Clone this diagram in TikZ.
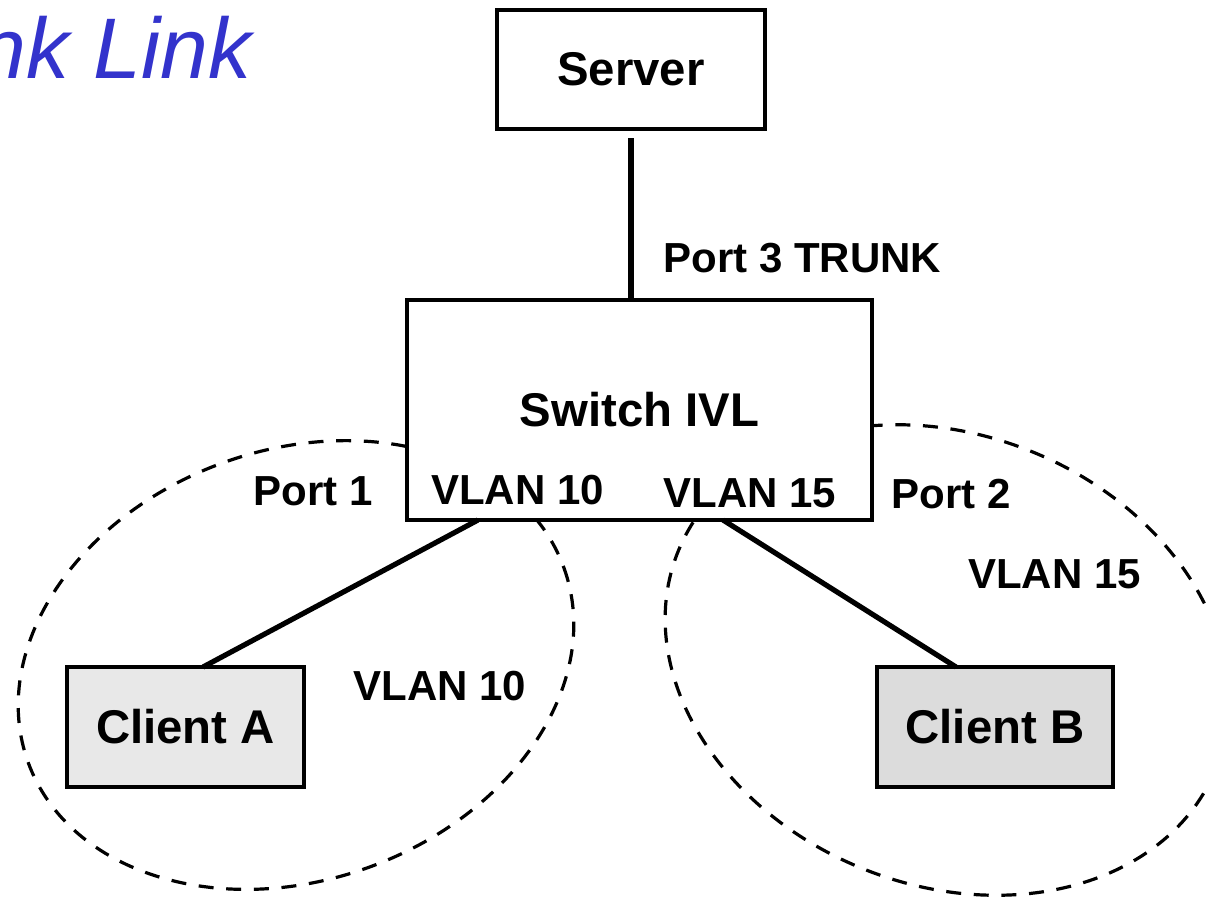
\documentclass[tikz,border=0pt]{standalone}
\usepackage{fontspec}
\setmainfont{Liberation Sans}
\usetikzlibrary{calc}
\definecolor{titleblue}{RGB}{51,51,204}
\definecolor{clientAfill}{RGB}{232,232,232}
\definecolor{clientBfill}{RGB}{220,220,220}
\begin{document}
\begin{tikzpicture}[x=0.75pt,y=-0.75pt,
  box/.style={draw=black, line width=3.4pt, fill=white, inner sep=0pt, outer sep=0pt,
    font=\fontsize{35.5}{40}\selectfont\bfseries},
  lbl/.style={inner sep=0pt, font=\fontsize{31.5}{36}\selectfont\bfseries},
  link/.style={line width=3.9pt},
  vlanzone/.style={dash pattern=on 11.25pt off 9.5pt, line width=2.4pt}]
\useasboundingbox (0,0) rectangle (1207,904);
\clip (0,0) rectangle (1207,904);

% heading (second line of the slide title)
\node[anchor=base west, inner sep=0pt, text=titleblue,
  font=\fontsize{64.5}{70}\selectfont\itshape] (title) at (-144,78) {Trunk Link};

% VLAN membership zones
\draw[vlanzone, rotate around={20:(296,665)}] (296,665) ellipse [x radius=285, y radius=215];
\draw[vlanzone, rotate around={-22:(947,660)}] (947,660) ellipse [x radius=290, y radius=225];

% devices
\node[box, minimum width=201pt, minimum height=89.25pt] (srv) at (631,69.5) {Server};
\node[box, minimum width=348.75pt, minimum height=165pt] (sw) at (639.5,410) {Switch IVL};
\node[box, fill=clientAfill, minimum width=177.75pt, minimum height=90pt] (cA) at (185.5,727) {Client A};
\node[box, fill=clientBfill, minimum width=177pt, minimum height=90pt] (cB) at (995,727) {Client B};

% port and VLAN labels
\node[lbl] (p3) at (802.5,258.5) {Port 3 TRUNK};
\node[lbl] (p1) at (313,491) {Port 1};
\node[lbl] (v10in) at (517.5,490) {VLAN 10};
\node[lbl] (v15in) at (750,493.5) {VLAN 15};
\node[lbl] (p2) at (951,494.5) {Port 2};
\node[lbl] (v15) at (1054.5,574) {VLAN 15};
\node[lbl] (v10) at (440,686.5) {VLAN 10};

% links
\draw[link, shorten <=6.75pt] (srv.south) -- (srv.south |- sw.north);
\draw[link] ([xshift=53.25pt]sw.south west) -- ([xshift=102pt]cA.north west);
\draw[link] ([xshift=237pt]sw.south west) -- ([xshift=59.25pt]cB.north west);
\end{tikzpicture}
\end{document}
